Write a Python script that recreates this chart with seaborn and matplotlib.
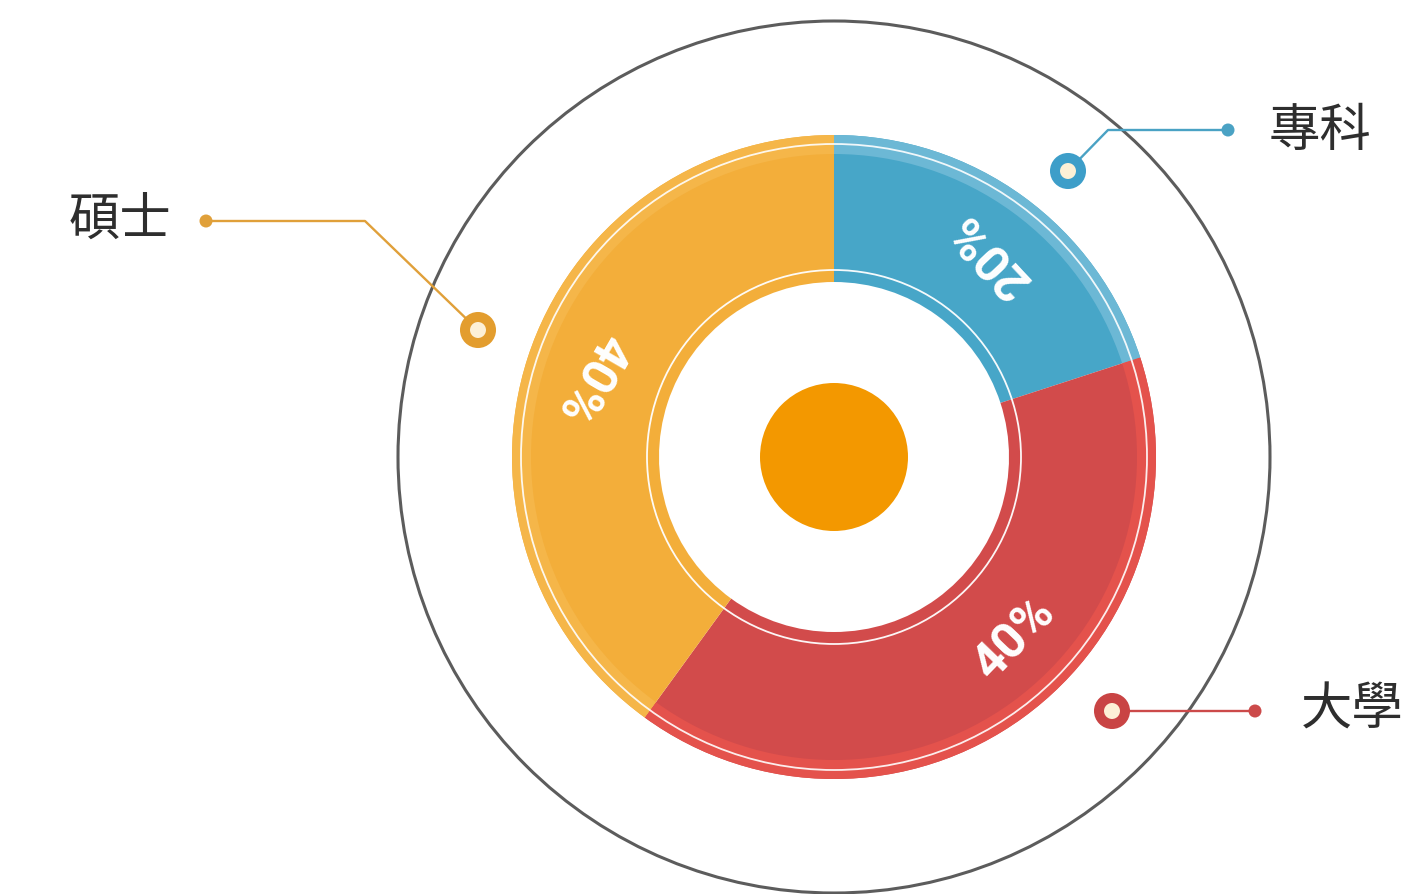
import numpy as np
import matplotlib
matplotlib.use("Agg")
import matplotlib.pyplot as plt
from matplotlib.patches import Circle
import seaborn as sns

# ---------------- data ----------------
categories = ["專科", "大學", "碩士"]
values = [20, 40, 40]
pct_labels = ["20%", "40%", "40%"]

# ---------------- style ----------------
main_colors = ["#47a6c8", "#d24b4b", "#f3ae3a"]
band_colors = ["#6cb8d5", "#e4524c", "#f5b649"]
line_colors = ["#4aa2c4", "#cc4a4a", "#e0a03a"]
ring_colors = ["#3d9ec9", "#c94444", "#e39d2e"]

sns.set_theme(style="white")
plt.rcParams["font.family"] = ["Noto Sans CJK TC", "DejaVu Sans"]

W, H = 1412, 895
fig = plt.figure(figsize=(W / 100, H / 100), dpi=100)
ax = fig.add_axes([0, 0, 1, 1])

def Y(y):
    return H - y

cx, cy = 834, Y(458)
R_out, R_in = 322, 175

# big grey circle
ax.add_patch(Circle((cx, cy), 436, fill=False, edgecolor="#5c5c5c", lw=2.2, zorder=1))

# main donut
ax.pie(values, colors=main_colors, startangle=90, counterclock=False,
       radius=R_out, center=(cx, cy),
       wedgeprops=dict(width=R_out - R_in, edgecolor="none", linewidth=0))
# outer lighter band
ax.pie(values, colors=band_colors, startangle=90, counterclock=False,
       radius=R_out, center=(cx, cy),
       wedgeprops=dict(width=19, edgecolor="none", linewidth=0))

# thin white rings
ax.add_patch(Circle((cx, cy), 313, fill=False, edgecolor="white", lw=1.3, alpha=0.9, zorder=5))
ax.add_patch(Circle((cx, cy), 187, fill=False, edgecolor="white", lw=1.3, alpha=0.95, zorder=5))

# centre dot
ax.add_patch(Circle((cx, cy), 74, facecolor="#f39800", edgecolor="none", zorder=6))

# percentage labels
total = sum(values)
cum = np.cumsum([0] + values)
mid_angles = [90 - 360 * (cum[i] + values[i] / 2) / total for i in range(len(values))]
angle_tweak = [-1.5, 9, 0]
rotations = [133, 46, -120]
r_lab = 256
for i, lab in enumerate(pct_labels):
    a = np.deg2rad(mid_angles[i] + angle_tweak[i])
    ax.text(cx + r_lab * np.cos(a), cy + r_lab * np.sin(a), lab,
            rotation=rotations[i], rotation_mode="anchor",
            ha="center", va="center", color="white",
            fontsize=36, fontweight="bold", family=["Roboto", "DejaVu Sans"], zorder=7)

# callouts: marker ring -> elbow -> dot -> label
callouts = {
    "專科": dict(pts=[(1068, 172), (1108, 131), (1228, 131)], text=(1320, 131), ha="center"),
    "大學": dict(pts=[(1112, 712), (1255, 712)], text=(1352, 710), ha="center"),
    "碩士": dict(pts=[(478, 331), (365, 222), (206, 222)], text=(120, 220), ha="center"),
}
for i, cat in enumerate(categories):
    c = callouts[cat]
    xs = [p[0] for p in c["pts"]]
    ys = [Y(p[1]) for p in c["pts"]]
    ax.plot(xs, ys, color=line_colors[i], lw=1.7, zorder=8, solid_capstyle="round")
    ax.add_patch(Circle((xs[-1], ys[-1]), 6.5, facecolor=line_colors[i], edgecolor="none", zorder=9))
    ax.add_patch(Circle((xs[0], ys[0]), 13, facecolor="#fdf0d6", edgecolor=ring_colors[i],
                        lw=7.2, zorder=9))
    ax.text(c["text"][0], Y(c["text"][1]), cat, ha=c["ha"], va="center",
            fontsize=37, color="#2e2e2e", zorder=9)

ax.set_xlim(0, W)
ax.set_ylim(0, H)
ax.set_aspect("equal")
ax.axis("off")
fig.savefig("out.png", dpi=100, facecolor="white")
